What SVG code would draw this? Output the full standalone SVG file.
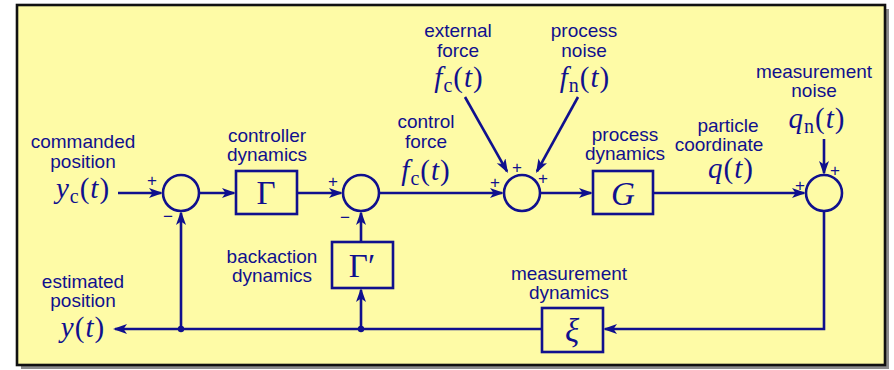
<svg xmlns="http://www.w3.org/2000/svg" width="894" height="370" viewBox="0 0 894 370">
<style>
.lbl{font-family:"Liberation Sans",Arial,sans-serif;font-size:19px;fill:#10108e;text-anchor:middle}
.m{font-family:"Liberation Serif","Times New Roman",serif;font-size:29px;fill:#10108e;text-anchor:middle;letter-spacing:1px}
.it{font-style:italic}
.sub{font-size:20px}
.sym{font-family:"Liberation Serif","Times New Roman",serif;font-size:33px;fill:#10108e;text-anchor:middle}
.sg{font-family:"Liberation Sans",Arial,sans-serif;font-size:17px;fill:#10108e;text-anchor:middle}
.blk{fill:none;stroke:#10108e;stroke-width:2.6}
.ln{fill:none;stroke:#10108e;stroke-width:2.6}
</style>
<defs>
<marker id="ah" markerUnits="userSpaceOnUse" markerWidth="16" markerHeight="12" refX="12" refY="5" orient="auto">
<path d="M0,0 L14,5 L0,10 L3.5,5 z" fill="#10108e"/>
</marker>
</defs>
<rect x="21" y="9" width="868" height="360" fill="#8c8c8c"/>
<rect x="17" y="5" width="868" height="360" fill="#fefba6" stroke="#111" stroke-width="2.6"/>

<g id="connectors">
<path class="ln" d="M118,193 H161" marker-end="url(#ah)"/>
<path class="ln" d="M199,193 H234" marker-end="url(#ah)"/>
<path class="ln" d="M297,193 H341" marker-end="url(#ah)"/>
<path class="ln" d="M379,193 H502" marker-end="url(#ah)"/>
<path class="ln" d="M540,193 H591" marker-end="url(#ah)"/>
<path class="ln" d="M653,193 H804" marker-end="url(#ah)"/>
<path class="ln" d="M465,97 L507,171.3" marker-end="url(#ah)"/>
<path class="ln" d="M578,97 L537,171.3" marker-end="url(#ah)"/>
<path class="ln" d="M824,139 V173" marker-end="url(#ah)"/>
<path class="ln" d="M824,211 V329 H605" marker-end="url(#ah)"/>
<path class="ln" d="M542,329 H115" marker-end="url(#ah)"/>
<path class="ln" d="M181,329 V213" marker-end="url(#ah)"/>
<path class="ln" d="M361,329 V290" marker-end="url(#ah)"/>
<path class="ln" d="M361,242 V213" marker-end="url(#ah)"/>
<circle cx="181" cy="329" r="3.2" fill="#10108e"/>
<circle cx="361" cy="329" r="3.2" fill="#10108e"/>
</g>

<g id="sum1">
<circle class="blk" cx="181" cy="193" r="18"/>
<text class="sg" x="152" y="186">+</text>
<text class="sg" x="168" y="222">−</text>
</g>
<g id="controller">
<rect class="blk" x="236" y="171" width="61" height="43"/>
<text class="sym" x="266" y="204">Γ</text>
<text class="lbl" x="267" y="142">controller</text>
<text class="lbl" x="267" y="161">dynamics</text>
</g>
<g id="sum2">
<circle class="blk" cx="361" cy="193" r="18"/>
<text class="sg" x="333" y="187">+</text>
<text class="sg" x="345" y="223">−</text>
</g>
<g id="backaction">
<rect class="blk" x="332" y="242" width="61" height="46"/>
<text class="sym" x="362" y="277">Γ′</text>
<text class="lbl" x="272" y="263">backaction</text>
<text class="lbl" x="272" y="282">dynamics</text>
</g>
<g id="sum3">
<circle class="blk" cx="522" cy="193" r="18"/>
<text class="sg" x="495" y="188">+</text>
<text class="sg" x="517" y="173">+</text>
<text class="sg" x="543" y="184">+</text>
</g>
<g id="process">
<rect class="blk" x="593" y="171" width="60" height="43"/>
<text class="sym it" x="623" y="205">G</text>
<text class="lbl" x="625" y="141">process</text>
<text class="lbl" x="625" y="160">dynamics</text>
</g>
<g id="sum4">
<circle class="blk" cx="824" cy="193" r="18"/>
<text class="sg" x="800" y="191">+</text>
<text class="sg" x="835" y="176">+</text>
</g>
<g id="measurement">
<rect class="blk" x="542" y="308" width="61" height="44"/>
<text class="sym it" x="572" y="342">ξ</text>
<text class="lbl" x="569" y="280">measurement</text>
<text class="lbl" x="569" y="299">dynamics</text>
</g>

<g id="commanded">
<text class="lbl" x="83" y="148">commanded</text>
<text class="lbl" x="83" y="168">position</text>
<text class="m" x="83" y="198"><tspan class="it">y</tspan><tspan class="sub" dy="5">c</tspan><tspan dy="-5">(</tspan><tspan class="it">t</tspan>)</text>
</g>
<g id="estimated">
<text class="lbl" x="83" y="288">estimated</text>
<text class="lbl" x="83" y="307">position</text>
<text class="m" x="83" y="337"><tspan class="it">y</tspan>(<tspan class="it">t</tspan>)</text>
</g>
<g id="controlforce">
<text class="lbl" x="426" y="128">control</text>
<text class="lbl" x="426" y="148">force</text>
<text class="m" x="426" y="180"><tspan class="it">f</tspan><tspan class="sub" dy="5">c</tspan><tspan dy="-5">(</tspan><tspan class="it">t</tspan>)</text>
</g>
<g id="externalforce">
<text class="lbl" x="458" y="37">external</text>
<text class="lbl" x="458" y="57">force</text>
<text class="m" x="459" y="87"><tspan class="it">f</tspan><tspan class="sub" dy="5">c</tspan><tspan dy="-5">(</tspan><tspan class="it">t</tspan>)</text>
</g>
<g id="processnoise">
<text class="lbl" x="584" y="37">process</text>
<text class="lbl" x="584" y="57">noise</text>
<text class="m" x="585" y="87"><tspan class="it">f</tspan><tspan class="sub" dy="5">n</tspan><tspan dy="-5">(</tspan><tspan class="it">t</tspan>)</text>
</g>
<g id="particle">
<text class="lbl" x="728" y="132">particle</text>
<text class="lbl" x="719" y="151">coordinate</text>
<text class="m" x="731" y="178"><tspan class="it">q</tspan>(<tspan class="it">t</tspan>)</text>
</g>
<g id="measnoise">
<text class="lbl" x="814" y="78">measurement</text>
<text class="lbl" x="814" y="97">noise</text>
<text class="m" x="817" y="128"><tspan class="it">q</tspan><tspan class="sub" dy="5">n</tspan><tspan dy="-5">(</tspan><tspan class="it">t</tspan>)</text>
</g>
</svg>
